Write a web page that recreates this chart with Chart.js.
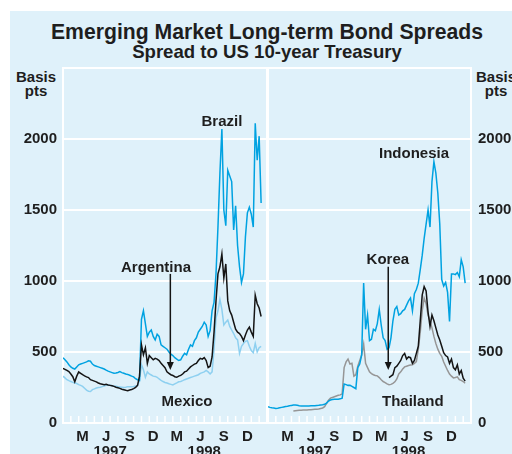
<!DOCTYPE html>
<html lang="en">
<head>
<meta charset="UTF-8">
<title>Emerging Market Long-term Bond Spreads</title>
<script src="https://cdn.jsdelivr.net/npm/chart.js"></script>
<style>
  body { margin: 0; background: #fff; font-family: "Liberation Sans", Arial, sans-serif; }
  #wrap { position: relative; width: 512px; height: 454px; overflow: hidden; }
  #panel { position: absolute; left: 10px; top: 11px; width: 502px; height: 443px; background: #dff1fa; }
  .txt { position: absolute; font-weight: bold; color: #1e1e1e; text-align: center; white-space: nowrap; }
  canvas { position: absolute; left: 0; top: 0; }
</style>
</head>
<body>
<div id="wrap">
  <div id="panel"></div>
  <div class="txt" style="left:0;width:534px;top:21px;font-size:21.2px;line-height:21px">Emerging Market Long-term Bond Spreads</div>
  <div class="txt" style="left:0;width:534px;top:43px;font-size:18.6px;line-height:18px">Spread to US 10-year Treasury</div>
  <div class="txt" style="left:0;width:72px;top:70px;font-size:15px;line-height:14px">Basis<br>pts</div>
  <div class="txt" style="left:454px;width:84px;top:70px;font-size:15px;line-height:14px">Basis<br>pts</div>
  <canvas id="leftChart" width="512" height="454"></canvas>
  <canvas id="rightChart" width="512" height="454"></canvas>
</div>

<script>
    // x values are months since 1 Jan 1997, one sample about every week
    const STEP = 0.25;

    const monthTicks = [2.5, 5.5, 8.5, 11.5, 14.5, 17.5, 20.5, 23.5];
    const monthLabels = ['M', 'J', 'S', 'D', 'M', 'J', 'S', 'D'];
    const yearTicks = [6, 18];
    const yearLabels = ['1997', '1998'];

    // left panel
    const brazilStart = 0;
    const brazil = [
        460, 445, 430, 410, 395, 385, 380, 395, 410, 415, 420, 425,
        430, 438, 435, 415, 405, 400, 395, 390, 385, 380, 372, 365,
        360, 355, 350, 352, 356, 362, 355, 350, 345, 342, 336, 330,
        325, 312, 305, 300, 730, 790, 700, 610, 640, 655, 610, 585,
        625, 610, 550, 540, 530, 520, 500, 485, 475, 460, 450, 440,
        445, 470, 490, 480, 520, 550, 540, 580, 600, 640, 660, 680,
        710, 690, 610, 650, 790, 850, 1050, 1380, 1760, 2070, 1500, 1390,
        1780, 1740, 1700, 1360, 1530, 1250, 1100, 990, 1050, 1310, 1480, 1520,
        1470, 1380, 2110, 1850, 2020, 1550
    ];
    const argentinaStart = 0;
    const argentina = [
        385, 378, 370, 362, 345, 326, 290, 330, 360, 350, 340, 332,
        325, 320, 305, 300, 295, 290, 282, 276, 273, 270, 272, 268,
        265, 262, 258, 252, 248, 244, 238, 234, 230, 228, 232, 236,
        242, 250, 265, 330, 550, 480, 530, 420, 475, 460, 445, 455,
        450, 440, 420, 405, 390, 360, 350, 340, 335, 326, 322, 330,
        335, 345, 360, 365, 380, 395, 405, 415, 420, 440, 455, 450,
        460, 440, 390, 400, 465, 640, 860, 1050, 1100, 1190, 1020, 1120,
        860, 790, 760, 710, 660, 640, 630, 610, 580, 620, 655, 675,
        640, 610, 900, 840, 810, 750
    ];
    const mexicoStart = 0;
    const mexico = [
        330, 318, 305, 298, 292, 286, 282, 278, 270, 265, 258, 245,
        232, 224, 222, 235, 240, 246, 250, 252, 256, 260, 265, 268,
        266, 262, 260, 258, 256, 254, 252, 250, 252, 256, 255, 256,
        257, 260, 263, 300, 410, 375, 322, 360, 345, 338, 330, 328,
        322, 310, 300, 292, 285, 282, 276, 272, 268, 275, 282, 290,
        292, 298, 305, 310, 315, 320, 325, 330, 335, 340, 350, 355,
        360, 370, 360, 345, 360, 520, 740, 790, 870, 800, 690, 710,
        725, 680, 655, 630, 600, 585, 490, 540, 560, 575, 580, 540,
        510, 495, 560, 500, 530, 540
    ];

    // right panel
    const indonesiaStart = 0;
    const indonesia = [
        115, 110, 107, 105, 103, 104, 107, 110, 113, 116, 118, 121,
        124, 126, 127, 125, 122, 120, 119, 120, 120, 120, 121, 121,
        122, 124, 125, 127, 128, 132, 140, 155, 162, 165, 167, 168,
        168, 170, 175, 275, 270, 265, 266, 258, 250, 242, 390, 415,
        480, 985, 660, 760, 580, 590, 660, 650, 700, 800, 690, 600,
        580, 520, 530, 600, 720, 800, 820, 760, 770, 790, 800, 830,
        860, 880, 790, 910, 940, 985, 1080, 1180, 1300, 1400, 1500, 1380,
        1700, 1840, 1760, 1620, 1400, 1010, 965, 990, 920, 715, 1050, 1050,
        1045, 1060, 1030, 1150, 1100, 985
    ];
    const koreaStart = 15.5;
    const korea = [
        320, 330, 340, 390, 400, 420, 440, 475,
        490, 450, 465, 460, 420, 440, 490, 540,
        720, 900, 960, 930, 780, 680, 760, 720,
        670, 620, 585, 540, 495, 475, 465, 420,
        450, 390, 375, 410, 345, 370, 315, 295
    ];
    const thailandStart = 3.25;
    const thailand = [
        84, 86, 88, 89, 90, 91, 91,
        92, 93, 94, 95, 96, 97, 98, 102,
        106, 115, 138, 160, 175, 180, 185, 190,
        195, 198, 205, 390, 430, 450, 415, 420,
        330, 340, 400, 440, 480, 555, 420, 390,
        360, 348, 340, 335, 332, 320, 305, 292,
        285, 275, 270, 272, 279, 290, 310, 345,
        360, 380, 395, 400, 405, 408, 410, 420,
        432, 520, 640, 790, 880, 840, 760, 720,
        670, 610, 560, 520, 490, 470, 430, 400,
        370, 345, 330, 318, 320, 325, 305, 300,
        292, 280
    ];

    // text labels (month, value at baseline) and pointer arrows (month, from, to)
    const leftNotes = [['Brazil', 20.25, 2090], ['Argentina', 11.85, 1060], ['Mexico', 15.8, 120]];
    const leftArrows = [[13.68, 1050, 373]];
    const rightNotes = [['Indonesia', 18.7, 1864], ['Korea', 15.35, 1120], ['Thailand', 18.55, 120]];
    const rightArrows = [[15.4, 1100, 373]];

    const BLUE = '#00a2e1';
    const LIGHT = '#8ed0f0';
    const BLACK = '#141414';
    const GREY = '#969696';
    const TEXT = '#1e1e1e';
    const FONT = {family: '"Liberation Sans", Arial, sans-serif', size: 15, weight: 'bold', lineHeight: 1};

    function toPoints(values, start) {
        return values.map((v, i) => ({x: start + i * STEP, y: v}));
    }

    // month letters on the first label line, years on the second
    const xTicks = monthTicks.concat(yearTicks).sort((a, b) => a - b);
    function xLabel(v) {
        const m = monthTicks.indexOf(v);
        if (m >= 0) return [monthLabels[m], ''];
        return ['', yearLabels[yearTicks.indexOf(v)]];
    }

    function panelPlugin(notes, arrows) {
        return {
            id: 'panel',
            beforeDatasetsDraw(chart) {
                const {ctx, chartArea: a, scales} = chart;
                ctx.save();
                ctx.strokeStyle = '#fff';
                ctx.lineWidth = 2;
                ctx.strokeRect(a.left, a.top, a.right - a.left, a.bottom - a.top);
                ctx.lineWidth = 1.5;
                ctx.beginPath();
                for (let m = 1; m < 26; m++) {
                    const x = scales.x.getPixelForValue(m);
                    ctx.moveTo(x, a.bottom);
                    ctx.lineTo(x, a.bottom - 7);
                }
                ctx.stroke();
                ctx.restore();
            },
            afterDatasetsDraw(chart) {
                const {ctx, scales} = chart;
                ctx.save();
                ctx.fillStyle = TEXT;
                ctx.font = 'bold 15px "Liberation Sans", Arial, sans-serif';
                ctx.textAlign = 'center';
                ctx.textBaseline = 'alphabetic';
                notes.forEach(n => ctx.fillText(n[0], scales.x.getPixelForValue(n[1]), scales.y.getPixelForValue(n[2])));
                ctx.strokeStyle = BLACK;
                ctx.fillStyle = BLACK;
                ctx.lineWidth = 1.5;
                arrows.forEach(a => {
                    const x = scales.x.getPixelForValue(a[0]);
                    const y0 = scales.y.getPixelForValue(a[1]);
                    const y1 = scales.y.getPixelForValue(a[2]);
                    ctx.beginPath();
                    ctx.moveTo(x, y0);
                    ctx.lineTo(x, y1 - 6);
                    ctx.stroke();
                    ctx.beginPath();
                    ctx.moveTo(x - 3.5, y1 - 8);
                    ctx.lineTo(x + 3.5, y1 - 8);
                    ctx.lineTo(x, y1);
                    ctx.closePath();
                    ctx.fill();
                });
                ctx.restore();
            }
        };
    }

    function makeChart(id, side, sets, notes, arrows) {
        const left = side === 'left';
        return new Chart(document.getElementById(id), {
            type: 'line',
            data: {
                datasets: sets.map(s => ({
                    data: toPoints(s[0], s[1]),
                    borderColor: s[2],
                    borderWidth: 1.5,
                    pointRadius: 0,
                    tension: 0,
                    fill: false
                }))
            },
            options: {
                responsive: false,
                animation: false,
                events: [],
                layout: {padding: left ? {left: 0, top: 68, right: 245, bottom: 0} : {left: 268, top: 68, right: 0, bottom: 0}},
                plugins: {legend: {display: false}, tooltip: {enabled: false}},
                scales: {
                    x: {
                        type: 'linear', position: 'bottom', min: 0, max: 26,
                        grid: {display: false, drawTicks: false, tickLength: 0}, border: {display: false},
                        afterBuildTicks: s => { s.ticks = xTicks.map(v => ({value: v})); },
                        afterFit: s => { s.height = 31; },
                        ticks: {
                            autoSkip: false, maxRotation: 0, padding: 6, color: TEXT, font: FONT,
                            callback: v => xLabel(v)
                        }
                    },
                    y: {
                        position: side, min: 0, max: 2500,
                        grid: {color: '#fff', lineWidth: 2, drawTicks: false, tickLength: 0},
                        border: {display: false},
                        afterFit: s => { s.width = left ? 63 : 41; },
                        ticks: {
                            stepSize: 500, padding: left ? 6 : 7, color: TEXT, font: FONT,
                            callback: v => (v === 2500 ? '' : v)
                        }
                    }
                }
            },
            plugins: [panelPlugin(notes, arrows)]
        });
    }

    // first dataset is drawn on top
    makeChart('leftChart', 'left', [
        [argentina, argentinaStart, BLACK],
        [brazil, brazilStart, BLUE],
        [mexico, mexicoStart, LIGHT]
    ], leftNotes, leftArrows);

    makeChart('rightChart', 'right', [
        [korea, koreaStart, BLACK],
        [indonesia, indonesiaStart, BLUE],
        [thailand, thailandStart, GREY]
    ], rightNotes, rightArrows);
</script>
</body>
</html>
